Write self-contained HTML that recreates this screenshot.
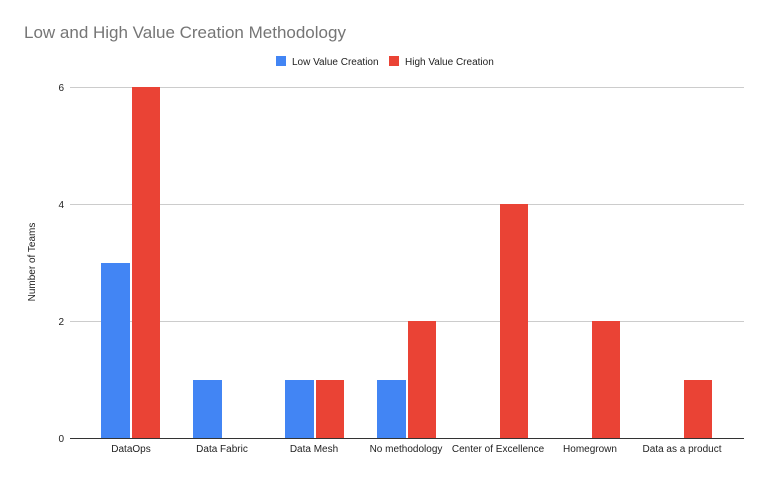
<!DOCTYPE html>
<html><head><style>
body{margin:0;background:#fff;}
svg text{font-family:"Liberation Sans",Arial,sans-serif;}
</style></head><body>
<svg width="768" height="477" xmlns="http://www.w3.org/2000/svg">
<rect width="768" height="477" fill="#fff"/>
<text x="24" y="38" font-size="17" fill="#757575">Low and High Value Creation Methodology</text>
<rect x="276" y="56" width="10" height="10" fill="#4285f4"/>
<text x="292" y="65" font-size="10" fill="#222">Low Value Creation</text>
<rect x="389" y="56" width="10" height="10" fill="#ea4335"/>
<text x="405" y="65" font-size="10" fill="#222">High Value Creation</text>
<g stroke="#cccccc" stroke-width="1">
<line x1="70" y1="87.5" x2="744" y2="87.5"/>
<line x1="70" y1="204.5" x2="744" y2="204.5"/>
<line x1="70" y1="321.5" x2="744" y2="321.5"/>
</g>
<g font-size="10" fill="#222" text-anchor="end">
<text x="64" y="91">6</text><text x="64" y="208">4</text><text x="64" y="325">2</text><text x="64" y="442">0</text>
</g>
<text transform="translate(35,262) rotate(-90)" font-size="10" fill="#222" text-anchor="middle">Number of Teams</text>
<g fill="#4285f4">
<rect x="101" y="263" width="29" height="175"/>
<rect x="193" y="380" width="29" height="58"/>
<rect x="285" y="380" width="29" height="58"/>
<rect x="377" y="380" width="29" height="58"/>
</g>
<g fill="#ea4335">
<rect x="132" y="87" width="28" height="351"/>
<rect x="316" y="380" width="28" height="58"/>
<rect x="408" y="321" width="28" height="117"/>
<rect x="500" y="204" width="28" height="234"/>
<rect x="592" y="321" width="28" height="117"/>
<rect x="684" y="380" width="28" height="58"/>
</g>
<line x1="70" y1="438.5" x2="744" y2="438.5" stroke="#333" stroke-width="1"/>
<g font-size="10" fill="#222" text-anchor="middle">
<text x="131" y="452">DataOps</text>
<text x="222" y="452">Data Fabric</text>
<text x="314" y="452">Data Mesh</text>
<text x="406" y="452">No methodology</text>
<text x="498" y="452">Center of Excellence</text>
<text x="590" y="452">Homegrown</text>
<text x="682" y="452">Data as a product</text>
</g>
</svg>
</body></html>
